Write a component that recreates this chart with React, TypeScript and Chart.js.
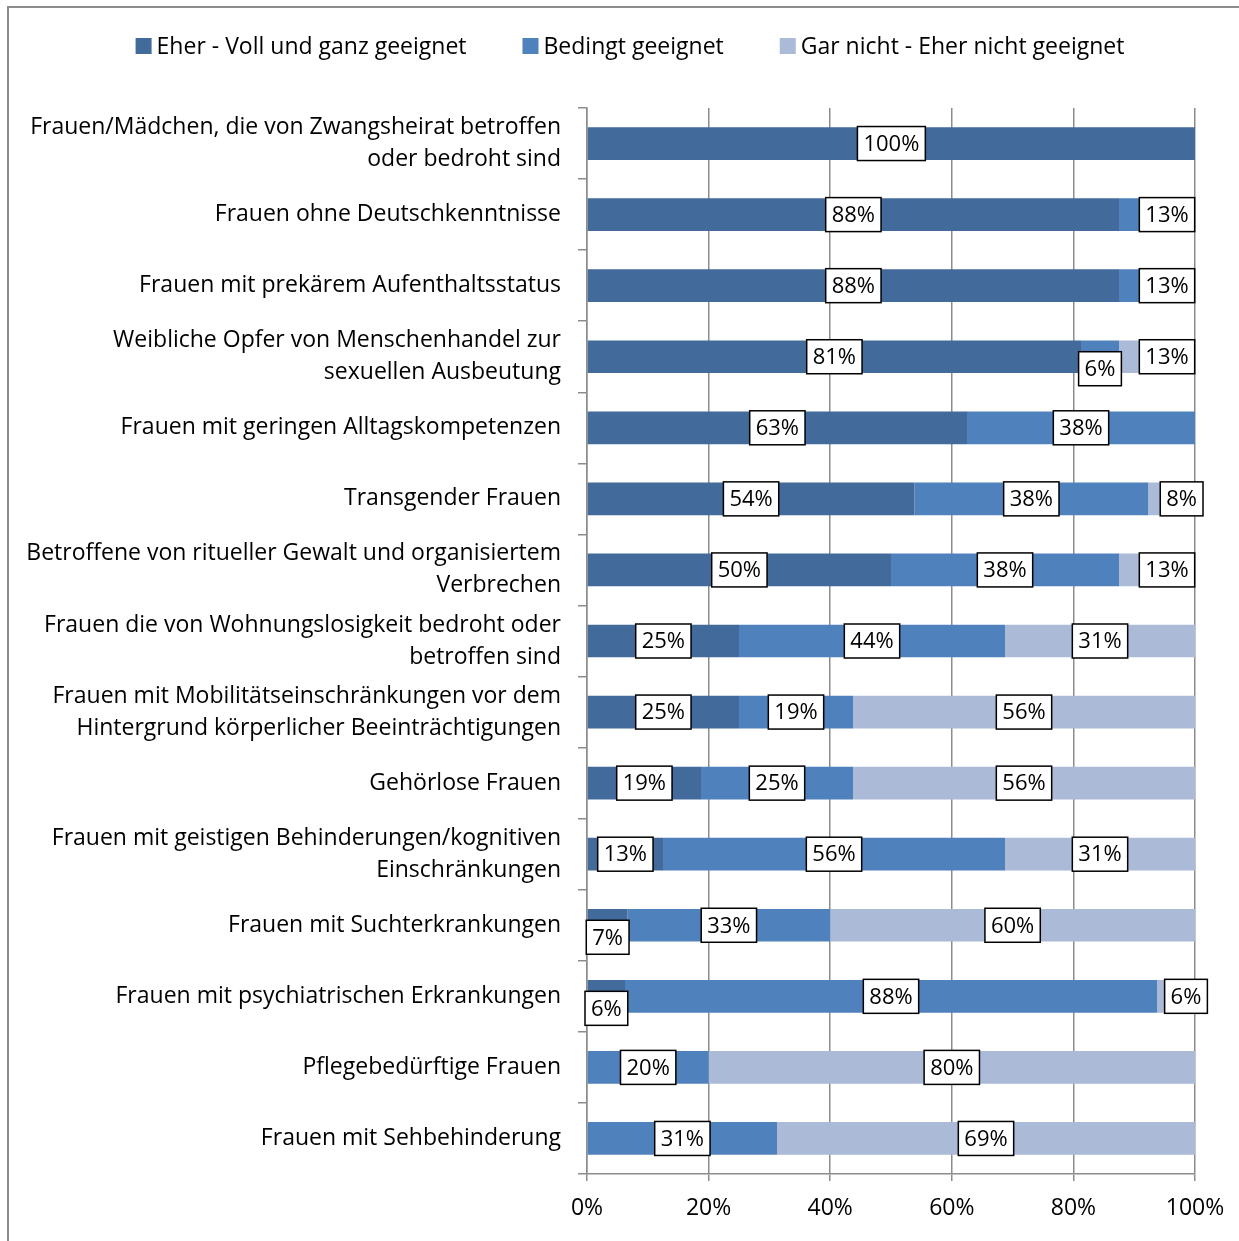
import React, { useEffect, useRef } from "react";
import { Chart, registerables } from "chart.js";

Chart.register(...registerables);

const categories: (string | string[])[] = [
  ["Frauen/Mädchen, die von Zwangsheirat betroffen", "oder bedroht sind"],
  "Frauen ohne Deutschkenntnisse",
  "Frauen mit prekärem Aufenthaltsstatus",
  ["Weibliche Opfer von Menschenhandel zur", "sexuellen Ausbeutung"],
  "Frauen mit geringen Alltagskompetenzen",
  "Transgender Frauen",
  ["Betroffene von ritueller Gewalt und organisiertem", "Verbrechen"],
  ["Frauen die von Wohnungslosigkeit bedroht oder", "betroffen sind"],
  ["Frauen mit Mobilitätseinschränkungen vor dem", "Hintergrund körperlicher Beeinträchtigungen"],
  "Gehörlose Frauen",
  ["Frauen mit geistigen Behinderungen/kognitiven", "Einschränkungen"],
  "Frauen mit Suchterkrankungen",
  "Frauen mit psychiatrischen Erkrankungen",
  "Pflegebedürftige Frauen",
  "Frauen mit Sehbehinderung",
];

const seriesNames = [
  "Eher - Voll und ganz geeignet",
  "Bedingt geeignet",
  "Gar nicht - Eher nicht geeignet",
];

const eherGeeignet = [100, 87.5, 87.5, 81.25, 62.5, 53.85, 50, 25, 25, 18.75, 12.5, 6.67, 6.25, 0, 0];
const bedingtGeeignet = [0, 12.5, 12.5, 6.25, 37.5, 38.46, 37.5, 43.75, 18.75, 25, 56.25, 33.33, 87.5, 20, 31.25];
const nichtGeeignet = [0, 0, 0, 12.5, 0, 7.69, 12.5, 31.25, 56.25, 56.25, 31.25, 60, 6.25, 80, 68.75];

const xTicks = [0, 20, 40, 60, 80, 100];

const colors = ["#426A9B", "#4F81BD", "#AABAD7"];
const FONT = "'Open Sans', sans-serif";

const frame = {
  id: "frame",
  afterDraw(chart: any) {
    const ctx = chart.ctx;
    ctx.save();
    ctx.strokeStyle = "#8C8C8C";
    ctx.lineWidth = 2;
    ctx.beginPath();
    ctx.moveTo(8, 1241);
    ctx.lineTo(8, 7);
    ctx.lineTo(1239, 7);
    ctx.stroke();
    ctx.restore();
  },
};

const legendPlugin = {
  id: "customLegend",
  afterDraw(chart: any) {
    const ctx = chart.ctx;
    ctx.save();
    ctx.font = `23px ${FONT}`;
    ctx.textBaseline = "middle";
    const box = 16;
    const gap = 5;
    const itemGap = 56;
    const items = chart.data.datasets.map((d: any) => ({
      label: d.label,
      color: d.backgroundColor,
      w: box + gap + ctx.measureText(d.label).width,
    }));
    const total = items.reduce((s: number, it: any) => s + it.w, 0) + itemGap * (items.length - 1);
    let x = 630 - total / 2;
    const y = 46;
    items.forEach((it: any) => {
      ctx.fillStyle = it.color;
      ctx.fillRect(x, y - box / 2, box, box);
      ctx.fillStyle = "#000";
      ctx.textAlign = "left";
      ctx.fillText(it.label, x + box + gap, y + 1);
      x += it.w + itemGap;
    });
    ctx.restore();
  },
};

const dataLabels = {
  id: "dataLabels",
  afterDatasetsDraw(chart: any) {
    const ctx = chart.ctx;
    ctx.save();
    ctx.font = `22px ${FONT}`;
    ctx.textAlign = "center";
    ctx.textBaseline = "middle";
    const nSets = chart.data.datasets.length;
    chart.data.datasets.forEach((ds: any, di: number) => {
      const meta = chart.getDatasetMeta(di);
      meta.data.forEach((bar: any, i: number) => {
        const v = ds.data[i];
        if (!v) return;
        let isLast = true;
        for (let k = di + 1; k < nSets; k++) if (chart.data.datasets[k].data[i] > 0) isLast = false;
        const text = Math.round(v) + "%";
        const tw = ctx.measureText(text).width;
        const w = tw + 12;
        const h = 34;
        const segW = Math.abs(bar.x - bar.base);
        let cx = (bar.x + bar.base) / 2;
        let cy = bar.y;
        if (isLast && segW < 80 && di > 0) cx += 10;
        else if (segW < 44) cy += 12;
        ctx.fillStyle = "#fff";
        ctx.fillRect(cx - w / 2, cy - h / 2, w, h);
        ctx.strokeStyle = "#000";
        ctx.lineWidth = 1.5;
        ctx.strokeRect(cx - w / 2, cy - h / 2, w, h);
        ctx.fillStyle = "#000";
        ctx.fillText(text, cx, cy + 1);
      });
    });
    ctx.restore();
  },
};

export default function App() {
  const ref = useRef<HTMLCanvasElement | null>(null);
  useEffect(() => {
    if (!ref.current) return;
    const datasets = [eherGeeignet, bedingtGeeignet, nichtGeeignet].map((d, i) => ({
      label: seriesNames[i],
      data: d,
      backgroundColor: colors[i],
      borderWidth: 0,
      barPercentage: 0.46,
      categoryPercentage: 1,
    }));
    const chart = new Chart(ref.current, {
      type: "bar",
      data: { labels: categories, datasets },
      options: {
        indexAxis: "y",
        animation: false,
        responsive: false,
        maintainAspectRatio: false,
        layout: { padding: { top: 108, right: 44, left: 0, bottom: 0 } },
        plugins: { legend: { display: false }, tooltip: { enabled: false } },
        scales: {
          x: {
            stacked: true,
            min: 0,
            max: 100,
            afterBuildTicks: (s: any) => {
              s.ticks = xTicks.map((v) => ({ value: v }));
            },
            afterFit: (s: any) => {
              s.height = 67;
            },
            ticks: {
              callback: (v: any) => v + "%",
              color: "#000",
              font: { family: FONT, size: 23 },
              padding: 14,
              maxRotation: 0,
            },
            grid: { color: "#8C8C8C", lineWidth: 1.5, tickLength: 7 },
            border: { color: "#8C8C8C", width: 1.5 },
          },
          y: {
            stacked: true,
            afterFit: (s: any) => {
              s.width = 587;
            },
            ticks: {
              color: "#000",
              font: { family: FONT, size: 23, lineHeight: 1.39 },
              padding: 17,
              autoSkip: false,
            },
            grid: { drawOnChartArea: false, offset: true, color: "#8C8C8C", lineWidth: 1.5, tickLength: 9 },
            border: { color: "#8C8C8C", width: 1.5 },
          },
        },
      },
      plugins: [frame, legendPlugin, dataLabels],
    });
    return () => chart.destroy();
  }, []);
  return (
    <div style={{ position: "absolute", left: 0, top: 0, width: 1239, height: 1241, background: "#fff" }}>
      <canvas ref={ref} width={1239} height={1241} style={{ width: 1239, height: 1241 }} />
    </div>
  );
}
